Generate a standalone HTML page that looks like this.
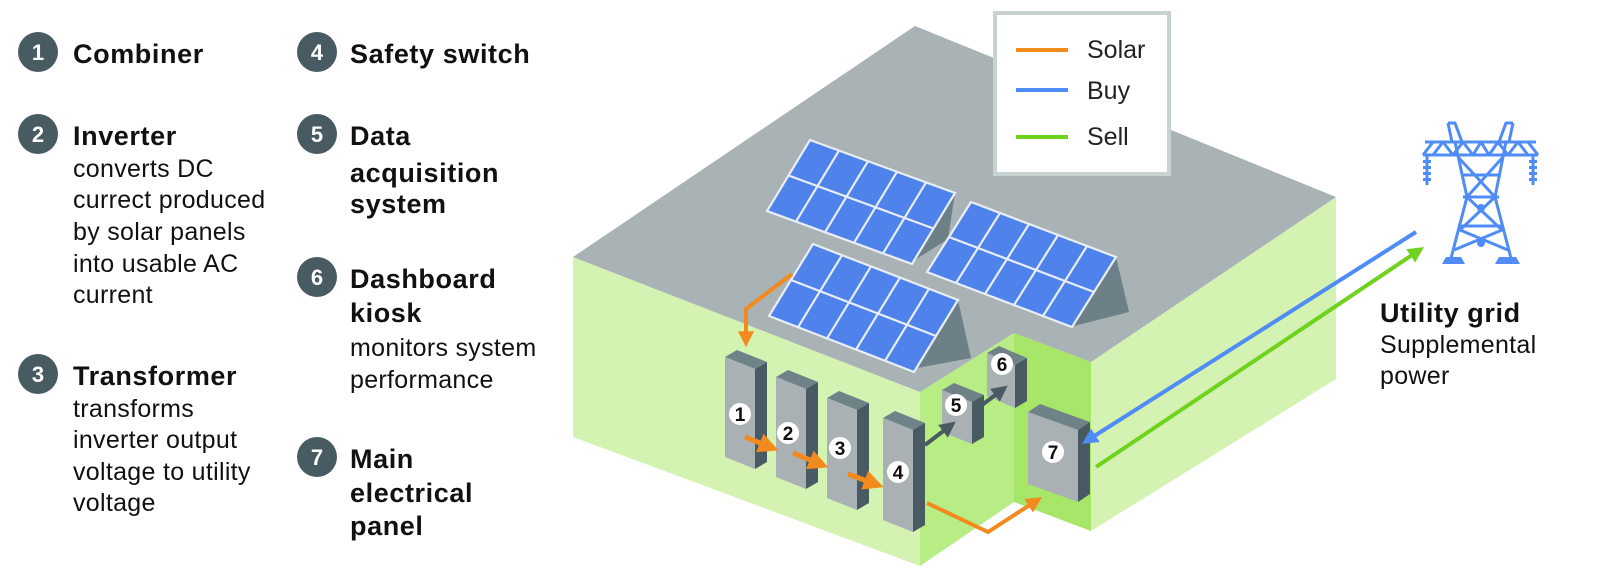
<!DOCTYPE html>
<html><head><meta charset="utf-8"><style>
html,body{margin:0;padding:0;background:#fff;}
svg{display:block}
.b{font-family:"Liberation Sans",sans-serif;font-weight:bold;font-size:27px;fill:#111;letter-spacing:0.6px}
.r{font-family:"Liberation Sans",sans-serif;font-size:25px;fill:#111;letter-spacing:0.3px}
.cn{font-family:"Liberation Sans",sans-serif;font-weight:bold;font-size:22px;fill:#fff;text-anchor:middle}
.wn{font-family:"Liberation Sans",sans-serif;font-weight:bold;font-size:19px;fill:#111;text-anchor:middle}
.lg{font-family:"Liberation Sans",sans-serif;font-size:25px;fill:#222}
</style></head><body>
<svg width="1600" height="576" viewBox="0 0 1600 576" xmlns="http://www.w3.org/2000/svg">
<defs>
<marker id="ao" markerWidth="4" markerHeight="4" refX="2.2" refY="2" orient="auto" markerUnits="strokeWidth"><path d="M0,0 L4,2 L0,4 Z" fill="#f28a1e"/></marker>
<marker id="ad" markerWidth="4" markerHeight="4" refX="2.2" refY="2" orient="auto" markerUnits="strokeWidth"><path d="M0,0 L4,2 L0,4 Z" fill="#485b62"/></marker>
<marker id="ab" markerWidth="4" markerHeight="4" refX="2.2" refY="2" orient="auto" markerUnits="strokeWidth"><path d="M0,0 L4,2 L0,4 Z" fill="#4f8cf5"/></marker>
<marker id="ag" markerWidth="4" markerHeight="4" refX="2.2" refY="2" orient="auto" markerUnits="strokeWidth"><path d="M0,0 L4,2 L0,4 Z" fill="#6fd21e"/></marker>
</defs>

<!-- Left text column -->
<g>
<circle cx="38" cy="52" r="20" fill="#485b62"/><text class="cn" x="38" y="60">1</text>
<text class="b" x="73" y="63">Combiner</text>
<circle cx="38" cy="134" r="20" fill="#485b62"/><text class="cn" x="38" y="142">2</text>
<text class="b" x="73" y="145">Inverter</text>
<text class="r" x="73" y="177">converts DC</text>
<text class="r" x="73" y="208">currect produced</text>
<text class="r" x="73" y="240">by solar panels</text>
<text class="r" x="73" y="272">into usable AC</text>
<text class="r" x="73" y="303">current</text>
<circle cx="38" cy="374" r="20" fill="#485b62"/><text class="cn" x="38" y="382">3</text>
<text class="b" x="73" y="385">Transformer</text>
<text class="r" x="73" y="417">transforms</text>
<text class="r" x="73" y="448">inverter output</text>
<text class="r" x="73" y="480">voltage to utility</text>
<text class="r" x="73" y="511">voltage</text>

<circle cx="317" cy="52" r="20" fill="#485b62"/><text class="cn" x="317" y="60">4</text>
<text class="b" x="350" y="63">Safety switch</text>
<circle cx="317" cy="134" r="20" fill="#485b62"/><text class="cn" x="317" y="142">5</text>
<text class="b" x="350" y="145">Data</text>
<text class="b" x="350" y="182">acquisition</text>
<text class="b" x="350" y="213">system</text>
<circle cx="317" cy="277" r="20" fill="#485b62"/><text class="cn" x="317" y="285">6</text>
<text class="b" x="350" y="288">Dashboard</text>
<text class="b" x="350" y="322">kiosk</text>
<text class="r" x="350" y="356">monitors system</text>
<text class="r" x="350" y="388">performance</text>
<circle cx="317" cy="457" r="20" fill="#485b62"/><text class="cn" x="317" y="465">7</text>
<text class="b" x="350" y="468">Main</text>
<text class="b" x="350" y="502">electrical</text>
<text class="b" x="350" y="535">panel</text>
</g>

<!-- Building -->
<polygon points="573,257 920,392 920,566 573,437" fill="#d4f2b2"/>
<polygon points="920,392 1014,333 1014,502 920,566" fill="#b8ec84"/>
<polygon points="1014,333 1091,362 1091,531 1014,502" fill="#a7e668"/>
<polygon points="1091,362 1336,197 1336,379 1091,531" fill="#d4f2b2"/>
<polygon points="968,540 1014,502 1050,518 1000,556" fill="#ffffff"/>
<polygon points="573,257 915,26 1336,197 1091,362 1014,333 920,392" fill="#a9b2b4"/>

<!-- panel shadows -->
<polygon points="955,193 907,265 948,239" fill="#6e8087"/>
<polygon points="1116,257 1070,327 1129,312" fill="#6e8087"/>
<polygon points="958,300 912,369 971,358" fill="#6e8087"/>

<!-- Panels -->
<g transform="matrix(145,53,-43,71,810,140)">
<rect x="0" y="0" width="1" height="1" fill="#4f82ea"/>
<g stroke="#e8eef8" stroke-width="2.2" vector-effect="non-scaling-stroke" fill="none">
<rect x="0" y="0" width="1" height="1" vector-effect="non-scaling-stroke"/>
<line x1="0" y1="0.5" x2="1" y2="0.5" vector-effect="non-scaling-stroke"/>
<line x1="0.2" y1="0" x2="0.2" y2="1" vector-effect="non-scaling-stroke"/><line x1="0.4" y1="0" x2="0.4" y2="1" vector-effect="non-scaling-stroke"/><line x1="0.6" y1="0" x2="0.6" y2="1" vector-effect="non-scaling-stroke"/><line x1="0.8" y1="0" x2="0.8" y2="1" vector-effect="non-scaling-stroke"/>
</g></g>
<g transform="matrix(145,55,-44,70,971,202)">
<rect x="0" y="0" width="1" height="1" fill="#4f82ea"/>
<g stroke="#e8eef8" stroke-width="2.2" fill="none">
<rect x="0" y="0" width="1" height="1" vector-effect="non-scaling-stroke"/>
<line x1="0" y1="0.5" x2="1" y2="0.5" vector-effect="non-scaling-stroke"/>
<line x1="0.2" y1="0" x2="0.2" y2="1" vector-effect="non-scaling-stroke"/><line x1="0.4" y1="0" x2="0.4" y2="1" vector-effect="non-scaling-stroke"/><line x1="0.6" y1="0" x2="0.6" y2="1" vector-effect="non-scaling-stroke"/><line x1="0.8" y1="0" x2="0.8" y2="1" vector-effect="non-scaling-stroke"/>
</g></g>
<g transform="matrix(145,56,-44,72,813,244)">
<rect x="0" y="0" width="1" height="1" fill="#4f82ea"/>
<g stroke="#e8eef8" stroke-width="2.2" fill="none">
<rect x="0" y="0" width="1" height="1" vector-effect="non-scaling-stroke"/>
<line x1="0" y1="0.5" x2="1" y2="0.5" vector-effect="non-scaling-stroke"/>
<line x1="0.2" y1="0" x2="0.2" y2="1" vector-effect="non-scaling-stroke"/><line x1="0.4" y1="0" x2="0.4" y2="1" vector-effect="non-scaling-stroke"/><line x1="0.6" y1="0" x2="0.6" y2="1" vector-effect="non-scaling-stroke"/><line x1="0.8" y1="0" x2="0.8" y2="1" vector-effect="non-scaling-stroke"/>
</g></g>

<!-- Legend -->
<rect x="995" y="13" width="174" height="161" fill="#fff" stroke="#c9d2d2" stroke-width="4"/>
<line x1="1016" y1="50" x2="1068" y2="50" stroke="#f28a1e" stroke-width="4"/>
<line x1="1016" y1="90" x2="1068" y2="90" stroke="#4f8cf5" stroke-width="4"/>
<line x1="1016" y1="137" x2="1068" y2="137" stroke="#6fd21e" stroke-width="4"/>
<text class="lg" x="1087" y="58">Solar</text>
<text class="lg" x="1087" y="99">Buy</text>
<text class="lg" x="1087" y="145">Sell</text>

<!-- Orange from panel to 1 -->
<polyline points="792,274 746,309 746,340" fill="none" stroke="#f28a1e" stroke-width="4" marker-end="url(#ao)"/>

<!-- Cabinets -->
<g>
<polygon points="725,357 737,350 767,362 755,369" fill="#6f8287"/><polygon points="725,357 755,369 755,469 725,457" fill="#a9b1b4"/><polygon points="755,369 767,362 767,462 755,469" fill="#485b62"/>
<polygon points="776,377 788,370 818,382 806,389" fill="#6f8287"/><polygon points="776,377 806,389 806,489 776,477" fill="#a9b1b4"/><polygon points="806,389 818,382 818,482 806,489" fill="#485b62"/>
<polygon points="827,398 839,391 869,403 857,410" fill="#6f8287"/><polygon points="827,398 857,410 857,510 827,498" fill="#a9b1b4"/><polygon points="857,410 869,403 869,503 857,510" fill="#485b62"/>
<polygon points="883,418 895,411 925,423 913,430" fill="#6f8287"/><polygon points="883,418 913,430 913,532 883,520" fill="#a9b1b4"/><polygon points="913,430 925,423 925,525 913,532" fill="#485b62"/>
<polygon points="942,390 954,383 984,395 972,402" fill="#6f8287"/><polygon points="942,390 972,402 972,444 942,432" fill="#a9b1b4"/><polygon points="972,402 984,395 984,437 972,444" fill="#485b62"/>
<polygon points="987,353 999,346 1027,358 1015,365" fill="#6f8287"/><polygon points="987,353 1015,365 1015,408 987,396" fill="#a9b1b4"/><polygon points="1015,365 1027,358 1027,401 1015,408" fill="#485b62"/>
<polygon points="1028,412 1040,404 1090,422 1078,430" fill="#6f8287"/><polygon points="1028,412 1078,430 1078,502 1028,484" fill="#a9b1b4"/><polygon points="1078,430 1090,422 1090,494 1078,502" fill="#485b62"/>
</g>

<!-- small arrows -->
<line x1="745" y1="437" x2="770" y2="447" stroke="#f28a1e" stroke-width="5" marker-end="url(#ao)"/>
<line x1="793" y1="453" x2="820" y2="464" stroke="#f28a1e" stroke-width="5" marker-end="url(#ao)"/>
<line x1="848" y1="474" x2="875" y2="484" stroke="#f28a1e" stroke-width="5" marker-end="url(#ao)"/>
<line x1="925" y1="445" x2="950" y2="426" stroke="#485b62" stroke-width="4" marker-end="url(#ad)"/>
<line x1="982" y1="405" x2="1002" y2="390" stroke="#485b62" stroke-width="4" marker-end="url(#ad)"/>
<polyline points="927,503 988,532 1036,501" fill="none" stroke="#f28a1e" stroke-width="4" marker-end="url(#ao)"/>

<!-- number circles -->
<g>
<circle cx="740" cy="414" r="11" fill="#fff"/><text class="wn" x="740" y="421">1</text>
<circle cx="788" cy="433" r="11" fill="#fff"/><text class="wn" x="788" y="440">2</text>
<circle cx="840" cy="448" r="11" fill="#fff"/><text class="wn" x="840" y="455">3</text>
<circle cx="898" cy="472" r="11" fill="#fff"/><text class="wn" x="898" y="479">4</text>
<circle cx="956" cy="405" r="11" fill="#fff"/><text class="wn" x="956" y="412">5</text>
<circle cx="1002" cy="364" r="11" fill="#fff"/><text class="wn" x="1002" y="371">6</text>
<circle cx="1053" cy="452" r="11" fill="#fff"/><text class="wn" x="1053" y="459">7</text>
</g>

<!-- Buy / Sell lines -->
<line x1="1416" y1="232" x2="1088" y2="440" stroke="#4f8cf5" stroke-width="4" marker-end="url(#ab)"/>
<line x1="1096" y1="467" x2="1418" y2="251" stroke="#6fd21e" stroke-width="4" marker-end="url(#ag)"/>

<!-- Tower -->
<g stroke="#4f8cf5" stroke-width="3" fill="none" stroke-linejoin="round">
<polyline points="1448,123 1455,123 1462,142"/>
<polyline points="1513,123 1506,123 1499,142"/>
<line x1="1448" y1="123" x2="1452" y2="142"/>
<line x1="1513" y1="123" x2="1509" y2="142"/>
<line x1="1425" y1="142" x2="1536" y2="142"/>
<line x1="1423" y1="155" x2="1538" y2="155"/>
<line x1="1423" y1="155" x2="1433" y2="142"/><line x1="1538" y1="155" x2="1528" y2="142"/>
<polyline points="1433,155 1443,142 1453,155 1463,142 1473,155 1481,142 1489,155 1498,142 1508,155 1518,142 1528,155"/>
<polyline points="1455,142 1467,197 1450,262"/>
<polyline points="1506,142 1495,197 1512,262"/>
<polyline points="1458,157 1495,197 1460,230 1508,250"/>
<polyline points="1503,157 1467,197 1502,230 1454,250"/>
<line x1="1461" y1="175" x2="1501" y2="175"/>
<line x1="1463" y1="197" x2="1499" y2="197"/>
<line x1="1458" y1="226" x2="1504" y2="226"/>
<line x1="1427" y1="155" x2="1427" y2="185"/>
<line x1="1533" y1="155" x2="1533" y2="185"/>
</g>
<g fill="#4f8cf5">
<rect x="1423" y="160" width="8" height="3"/><rect x="1423" y="166" width="8" height="3"/><rect x="1423" y="172" width="8" height="3"/><rect x="1423" y="178" width="8" height="3"/>
<rect x="1529" y="160" width="8" height="3"/><rect x="1529" y="166" width="8" height="3"/><rect x="1529" y="172" width="8" height="3"/><rect x="1529" y="178" width="8" height="3"/>
<circle cx="1481" cy="208" r="4"/><circle cx="1481" cy="243" r="4"/>
<polygon points="1442,264 1446,257 1461,257 1465,264"/>
<polygon points="1495,264 1499,257 1516,257 1520,264"/>
</g>

<text class="b" x="1380" y="322">Utility grid</text>
<text class="r" x="1380" y="353">Supplemental</text>
<text class="r" x="1380" y="384">power</text>
</svg>
</body></html>
